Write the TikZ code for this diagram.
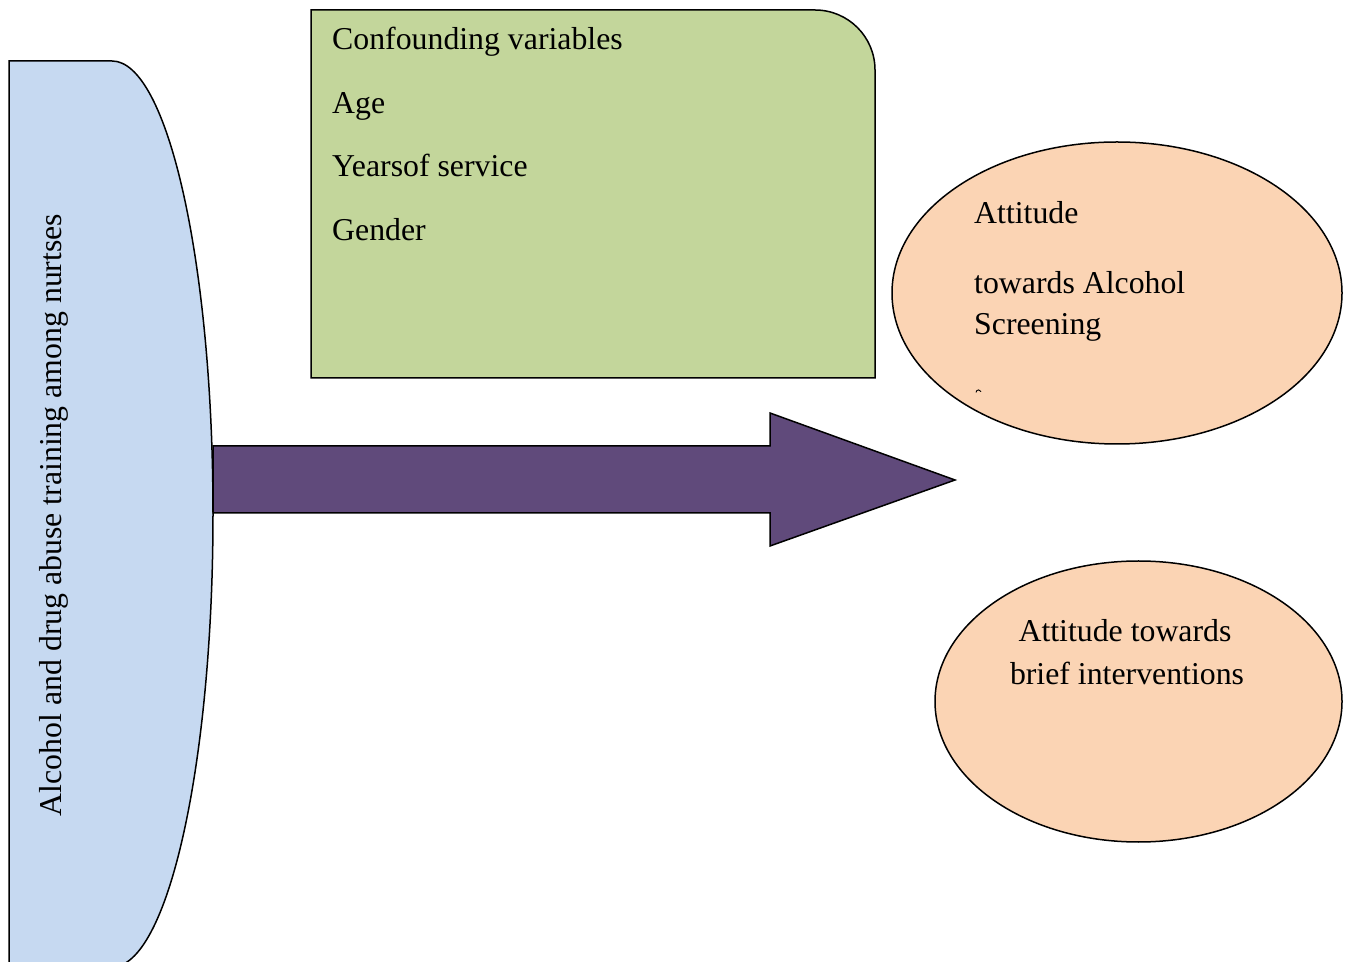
\documentclass[tikz,border=0pt]{standalone}
\usepackage{fontspec}
\setmainfont{Liberation Serif}
\definecolor{blueshape}{HTML}{C6D9F1}
\definecolor{greenbox}{HTML}{C3D69B}
\definecolor{orangeell}{HTML}{FBD4B4}
\definecolor{purplearrow}{HTML}{604A7B}
\tikzset{
  outline/.style={draw=black,line width=1.5pt,line join=miter},
  lbl/.style={inner sep=0pt,font=\fontsize{31.8}{38}\selectfont,text=black},
}
\begin{document}
\begin{tikzpicture}[x=1pt,y=1pt]
\useasboundingbox (0,0) rectangle (1351,961);
\clip (0,0) rectangle (1351,961);
% left blue delay shape
\path[outline,fill=blueshape] (9,-6) -- (9,900) -- (112,900)
  arc[start angle=90,end angle=-90,x radius=101pt,y radius=453pt] -- cycle;
\node[lbl,rotate=90,anchor=base] (train) at (61,446) {Alcohol and drug abuse training among nurtses};
% green box
\path[outline,fill=greenbox] (311,583) -- (311,951) -- (815,951)
  arc[start angle=90,end angle=0,x radius=60pt,y radius=60pt] -- (875,583) -- cycle;
\node[lbl,anchor=base west] (conf) at (332,911) {Confounding variables};
\node[lbl,anchor=base west] (age) at (332,847) {Age};
\node[lbl,anchor=base west] (years) at (332,784) {Yearsof service};
\node[lbl,anchor=base west] (gender) at (332,720) {Gender};
% arrow
\path[outline,fill=purplearrow] (213,448) -- (770,448) -- (770,415) -- (955,481)
  -- (770,548) -- (770,515) -- (213,515) -- cycle;
% ellipse 1
\path[outline,fill=orangeell] (1117,668) ellipse[x radius=225pt,y radius=151pt];
\node[lbl,anchor=base west] (att1) at (974,737) {Attitude};
\node[lbl,anchor=base west] (att2) at (974,667) {towards Alcohol};
\node[lbl,anchor=base west] (att3) at (974,626) {Screening};
\draw[line width=0.9pt] (976,568.5) arc[start angle=180,end angle=20,radius=2.6pt];
% ellipse 2
\path[outline,fill=orangeell] (1138.5,259.5) ellipse[x radius=203.5pt,y radius=140.5pt];
\node[lbl,anchor=base] (bi1) at (1125,319) {Attitude towards};
\node[lbl,anchor=base] (bi2) at (1127,276) {brief interventions};
\end{tikzpicture}
\end{document}
